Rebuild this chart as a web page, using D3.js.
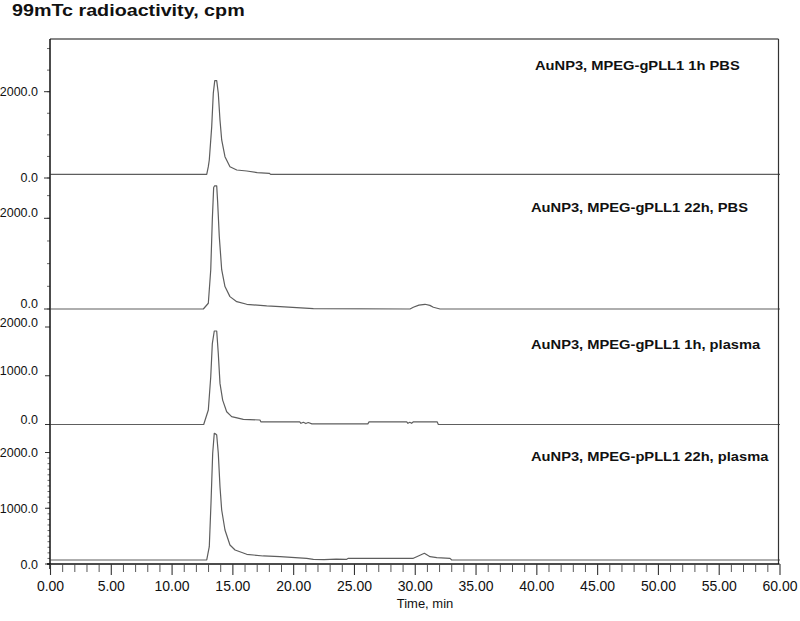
<!DOCTYPE html>
<html><head><meta charset="utf-8">
<script src="https://cdn.jsdelivr.net/npm/d3@7"></script>
<style>body{margin:0;background:#fff} svg{display:block}</style>
</head><body>
<svg id="c" width="800" height="621"></svg>
<script>
// ---------- data ----------
const chartTitle = "99mTc radioactivity, cpm";
const xAxisTitle = "Time, min";
const panelLabels = [
  "AuNP3, MPEG-gPLL1 1h PBS",
  "AuNP3, MPEG-gPLL1 22h, PBS",
  "AuNP3, MPEG-gPLL1 1h, plasma",
  "AuNP3, MPEG-pPLL1 22h, plasma"
];
const xMajorTicks = [0,5,10,15,20,25,30,35,40,45,50,55,60];
const xMinorTicks = d3.range(0, 61, 1);
const yLabelTicks1 = [0, 2000];
const yLabelTicks2 = [0, 2000];
const yLabelTicks3 = [0, 1000, 2000];
const yLabelTicks4 = [0, 1000, 2000];
const yMinorTicks1 = [0,500,1000,1500,2000,2500,3000];
const yMinorTicks2 = [0,500,1000,1500,2000,2500];
const yMinorTicks3 = [];
const yMinorTicks4 = d3.range(0, 2001, 100);

// [time (min), radioactivity (cpm)]
const trace1 = [[0,85],[12.85,85],[12.98,262],[13.06,418],[13.26,1190],[13.39,1965],[13.51,2257],[13.67,2257],[13.80,1965],[13.94,1346],[14.08,882],[14.35,494],[14.76,262],[15.32,186],[16.14,162],[17.0,125],[18.0,109],[18.1,85],[60,85]];
const trace2 = [[0,0],[12.57,0],[12.98,127],[13.18,866],[13.31,1976],[13.42,2680],[13.50,2717],[13.67,2717],[13.75,2346],[13.88,1605],[14.08,866],[14.35,495],[14.76,273],[15.32,162],[16.14,104],[17.78,67],[18.88,51],[21.62,7],[29.57,0],[29.84,38],[30.3,85],[30.80,104],[31.2,80],[31.49,38],[32.04,0],[60,0]];
const trace3 = [[0,0],[12.6,0],[12.98,297],[13.18,978],[13.31,1660],[13.47,1918],[13.67,1918],[13.80,1456],[13.94,843],[14.16,501],[14.49,262],[14.90,160],[15.86,106],[17.23,92],[17.30,55],[20.5,55],[20.6,25],[20.8,45],[21.0,20],[21.2,40],[21.5,14],[26.1,14],[26.2,55],[29.3,55],[29.4,25],[29.55,45],[29.7,25],[29.85,55],[31.8,55],[31.9,0],[60,0]];
const trace4 = [[0,72],[12.85,72],[13.06,310],[13.20,1089],[13.34,1986],[13.47,2345],[13.60,2330],[13.67,2314],[13.80,1986],[13.94,1387],[14.08,969],[14.35,610],[14.76,341],[15.18,251],[16.14,174],[17.50,144],[18.88,131],[21.07,102],[21.62,84],[22.5,80],[23.5,88],[24.36,84],[24.5,102],[29.84,102],[30.12,131],[30.75,192],[31.22,131],[31.77,113],[32.86,102],[33.0,72],[60,72]];

// ---------- layout ----------
const svg = d3.select("#c");
const frameL = 50, frameR = 778.5, frameT = 39, frameB = 564;
const x = d3.scaleLinear().domain([0, 60]).range([50.5, 780]);

const panels = [
  {data: trace1, label: panelLabels[0], labelTicks: yLabelTicks1, minor: yMinorTicks1, range:[178, 91.7], dy:0, labelX:535, labelY:70, majorLen:6, minorLen:3},
  {data: trace2, label: panelLabels[1], labelTicks: yLabelTicks2, minor: yMinorTicks2, range:[309, 218.3], dy:-5.5, labelX:531, labelY:211.5, majorLen:6, minorLen:3},
  {data: trace3, label: panelLabels[2], labelTicks: yLabelTicks3, minor: yMinorTicks3, range:[424.5, 327], dy:-4.5, labelX:531, labelY:349, majorLen:5, minorLen:2.5},
  {data: trace4, label: panelLabels[3], labelTicks: yLabelTicks4, minor: yMinorTicks4, range:[564, 452.5], dy:0.8, labelX:531, labelY:461, majorLen:5, minorLen:2.5}
];

const font = "'Liberation Sans', Arial, Helvetica, sans-serif";

// title
svg.append("text")
  .attr("transform", "translate(12,15.5) scale(1.16,1)")
  .attr("font-family", font).attr("font-weight", "bold").attr("font-size", 17)
  .attr("fill", "#111").text(chartTitle);

// traces
const line = d3.line();
panels.forEach(p => {
  const y = d3.scaleLinear().domain([0, 2000]).range(p.range);
  svg.append("path")
    .attr("d", line(p.data.map(d => [x(d[0]), y(d[1])])))
    .attr("fill", "none").attr("stroke", "#5e5e5e").attr("stroke-width", 1.2)
    .attr("stroke-linejoin", "round");
  svg.append("text")
    .attr("transform", `translate(${p.labelX},${p.labelY}) scale(1.13,1)`)
    .attr("font-family", font).attr("font-weight", "bold").attr("font-size", 13)
    .attr("fill", "#111").text(p.label);
  svg.append("g").selectAll("line").data(p.minor).join("line")
    .attr("x1", frameL - p.minorLen).attr("x2", frameL)
    .attr("y1", d => y(d)).attr("y2", d => y(d))
    .attr("stroke", "#444").attr("stroke-width", 0.8);
  svg.append("g").selectAll("line").data(p.labelTicks).join("line")
    .attr("x1", frameL - p.majorLen).attr("x2", frameL)
    .attr("y1", d => y(d)).attr("y2", d => y(d))
    .attr("stroke", "#333").attr("stroke-width", 1);
  svg.append("g").selectAll("text").data(p.labelTicks).join("text")
    .attr("x", 38).attr("y", d => y(d) + p.dy)
    .attr("text-anchor", "end").attr("dominant-baseline", "central")
    .attr("font-family", font).attr("font-size", 12.5).attr("fill", "#111")
    .text(d => d3.format(".1f")(d));
});

// frame
svg.append("line").attr("x1", frameL).attr("x2", frameR).attr("y1", frameT).attr("y2", frameT)
  .attr("stroke", "#111").attr("stroke-width", 1.2);
svg.append("line").attr("x1", frameR).attr("x2", frameR).attr("y1", frameT).attr("y2", frameB)
  .attr("stroke", "#333").attr("stroke-width", 1.2);
svg.append("line").attr("x1", frameL).attr("x2", frameL).attr("y1", frameT).attr("y2", frameB + 5)
  .attr("stroke", "#111").attr("stroke-width", 1.5);
svg.append("line").attr("x1", frameL - 3).attr("x2", frameR + 1).attr("y1", frameB).attr("y2", frameB)
  .attr("stroke", "#111").attr("stroke-width", 1.6);

// x axis ticks
svg.append("g").selectAll("line").data(xMinorTicks.filter(d => d % 5 !== 0)).join("line")
  .attr("x1", d => x(d)).attr("x2", d => x(d)).attr("y1", frameB).attr("y2", frameB + 8)
  .attr("stroke", "#444").attr("stroke-width", 0.9);
svg.append("g").selectAll("line").data(xMajorTicks).join("line")
  .attr("x1", d => x(d)).attr("x2", d => x(d)).attr("y1", frameB).attr("y2", frameB + 11)
  .attr("stroke", "#333").attr("stroke-width", 1.1);
svg.append("g").selectAll("text").data(xMajorTicks).join("text")
  .attr("x", d => x(d)).attr("y", 585.5)
  .attr("text-anchor", "middle").attr("dominant-baseline", "central")
  .attr("font-family", font).attr("font-size", 14).attr("fill", "#111")
  .text(d => d3.format(".2f")(d));

svg.append("text").attr("x", 425).attr("y", 603)
  .attr("text-anchor", "middle").attr("dominant-baseline", "central")
  .attr("font-family", font).attr("font-size", 13).attr("fill", "#111")
  .text(xAxisTitle);
</script>
</body></html>
